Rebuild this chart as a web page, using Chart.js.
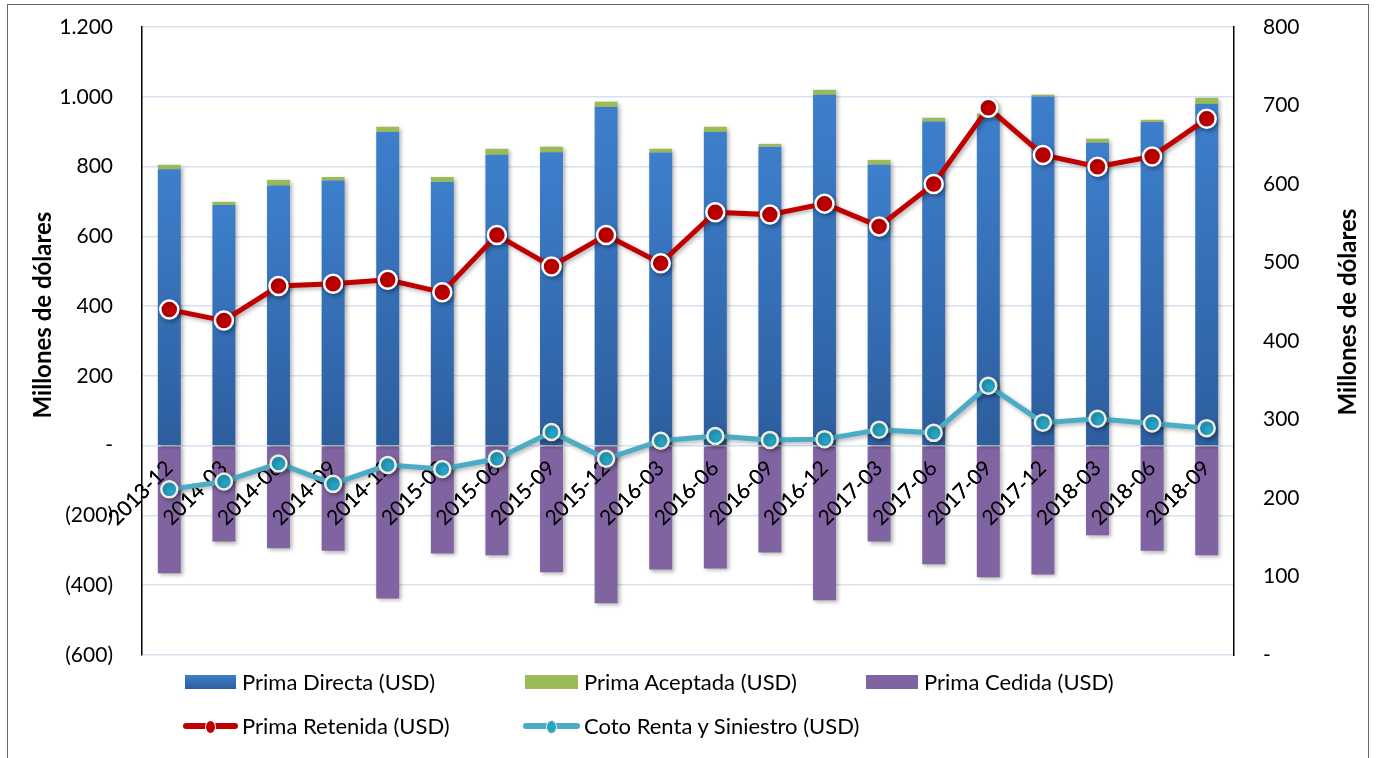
<!DOCTYPE html>
<html lang="es">
<head>
<meta charset="utf-8" />
<title>Primas</title>
<script src="https://cdn.jsdelivr.net/npm/chart.js@4.4.0/dist/chart.umd.min.js"></script>
<style>
  body { margin: 0; background: #fff; font-family: Lato, "Open Sans", sans-serif; }
  #caja { position: absolute; left: 0; top: 0; width: 1376px; height: 758px; }
  #marco { position: absolute; left: 7px; top: 4px; width: 1360px; height: 800px; border: 1px solid #666; }
  .ley { position: absolute; font-size: 22px; color: #000; line-height: 24px; white-space: nowrap; }
  .cuadro { position: absolute; height: 14px; }
  .linea { position: absolute; height: 6px; border-radius: 3px; }
  .punto { position: absolute; width: 9px; height: 12px; border-radius: 50%; }
</style>
</head>
<body>
<div id="marco"></div>
<div id="caja"><canvas id="grafico" width="1376" height="758"></canvas></div>

<div class="cuadro" style="left:185px;top:675px;width:51px;background:linear-gradient(#3D7FCC,#2D5E9E)"></div>
<div class="ley" style="left:242px;top:670px">Prima Directa (USD)</div>
<div class="cuadro" style="left:525px;top:675px;width:53px;background:#9BBB59"></div>
<div class="ley" style="left:584px;top:670px">Prima Aceptada (USD)</div>
<div class="cuadro" style="left:866px;top:675px;width:52px;background:#8064A2"></div>
<div class="ley" style="left:924px;top:670px">Prima Cedida (USD)</div>

<div class="linea" style="left:183px;top:723px;width:55px;background:#C00000"></div>
<div class="punto" style="left:205px;top:720px;background:#C00000;border:1px solid #fff"></div>
<div class="ley" style="left:242px;top:714px">Prima Retenida (USD)</div>
<div class="linea" style="left:523px;top:723px;width:57px;background:#4BACC6"></div>
<div class="punto" style="left:546px;top:720px;background:#2AA3C6;border:1px solid #EEECE1"></div>
<div class="ley" style="left:584px;top:714px">Coto Renta y Siniestro (USD)</div>

<script>
// datos (millones de USD)
const fechas = ["2013-12","2014-03","2014-06","2014-09","2014-12","2015-03","2015-06","2015-09","2015-12","2016-03",
                "2016-06","2016-09","2016-12","2017-03","2017-06","2017-09","2017-12","2018-03","2018-06","2018-09"];
const primaDirecta  = [792, 690, 746, 760, 899, 756, 834, 841, 971, 840, 899, 857, 1006, 805, 929, 940, 1001, 868, 928, 979];
const primaAceptada = [13, 9, 16, 10, 15, 14, 17, 16, 15, 11, 15, 8, 14, 14, 11, 12, 5, 12, 6, 18];
const primaCedida   = [-366, -275, -294, -301, -438, -309, -314, -363, -452, -355, -352, -306, -443, -275, -340, -377, -369, -257, -301, -314];
// eje derecho
const primaRetenida = [440, 426, 470, 473, 478, 462, 535, 495, 535, 499, 564, 561, 575, 546, 600, 697, 637, 622, 635, 683];
const costoRenta    = [211, 221, 244, 218, 242, 237, 250, 284, 250, 273, 279, 274, 275, 287, 283, 343, 296, 301, 295, 289];
const tituloEje = "Millones de dólares";

function formato(v) {
  if (v === 0) return "-";
  const s = String(Math.abs(v)).replace(/\B(?=(\d{3})+(?!\d))/g, ".");
  return v < 0 ? "(" + s + ")" : s;
}

// degradado azul de cada barra
function azul(ctx) {
  const chart = ctx.chart;
  if (!chart.chartArea || ctx.raw === undefined) return "#3A78C2";
  const y = chart.scales.y;
  const g = chart.ctx.createLinearGradient(0, y.getPixelForValue(ctx.raw), 0, y.getPixelForValue(0));
  g.addColorStop(0, "#3D7FCC");
  g.addColorStop(1, "#2D5E9E");
  return g;
}

const sombra = {
  id: "sombra",
  beforeDatasetDraw(chart) {
    const c = chart.ctx;
    c.save();
    c.shadowColor = "rgba(0,0,0,0.3)";
    c.shadowBlur = 4;
    c.shadowOffsetX = 2;
    c.shadowOffsetY = 2;
  },
  afterDatasetDraw(chart) { chart.ctx.restore(); }
};

// fechas encima de las barras pero debajo de las lineas
const etiquetasX = {
  id: "etiquetasX",
  afterDatasetDraw(chart, args) {
    if (args.index === 2) chart.scales.x.drawLabels(chart.chartArea);
  }
};

// titulos de los ejes, ambos girados hacia arriba
const titulos = {
  id: "titulos",
  afterDraw(chart) {
    const c = chart.ctx;
    c.save();
    c.font = "bold 24px Lato";
    c.fillStyle = "#000";
    c.textAlign = "center";
    c.textBaseline = "middle";
    [[43, 315], [1348, 312]].forEach(([x, y]) => {
      c.save();
      c.translate(x, y);
      c.rotate(-Math.PI / 2);
      c.fillText(tituloEje, 0, 0);
      c.restore();
    });
    c.restore();
  }
};

const fuente = { family: "Lato", size: 21 };

new Chart(document.getElementById("grafico"), {
  type: "bar",
  data: {
    labels: fechas,
    datasets: [
      { type: "line", label: "Prima Retenida (USD)", data: primaRetenida, yAxisID: "y1", order: 1,
        borderColor: "#C00000", borderWidth: 5, backgroundColor: "#C00000",
        pointRadius: 9, pointBorderWidth: 2.5, pointBorderColor: "#fff", pointBackgroundColor: "#C00000", tension: 0 },
      { type: "line", label: "Coto Renta y Siniestro (USD)", data: costoRenta, yAxisID: "y1", order: 2,
        borderColor: "#4BACC6", borderWidth: 5, backgroundColor: "#2AA3C6",
        pointRadius: 8, pointBorderWidth: 2.5, pointBorderColor: "#EEECE1", pointBackgroundColor: "#25A2C4", tension: 0 },
      { label: "Prima Directa (USD)", data: primaDirecta, backgroundColor: azul, order: 3 },
      { label: "Prima Aceptada (USD)", data: primaAceptada, backgroundColor: "#9BBB59", order: 3 },
      { label: "Prima Cedida (USD)", data: primaCedida, backgroundColor: "#8064A2", order: 3 }
    ]
  },
  options: {
    responsive: false,
    animation: false,
    layout: { padding: { top: 27, bottom: 103, left: 0, right: 0 } },
    datasets: { bar: { categoryPercentage: 0.42, barPercentage: 1 } },
    plugins: { legend: { display: false }, tooltip: { enabled: false } },
    scales: {
      x: {
        stacked: true,
        position: { y: 0 },
        grid: { display: false },
        border: { display: false },
        ticks: { font: fuente, color: "#000", minRotation: 45, maxRotation: 45, autoSkip: false, padding: 2 }
      },
      y: {
        stacked: true,
        position: "left",
        min: -600, max: 1200,
        grid: { color: "#D6E2F2", lineWidth: 1.5, tickLength: 27, tickColor: "rgba(0,0,0,0)" },
        border: { color: "#000", width: 1.5 },
        ticks: { stepSize: 200, font: fuente, color: "#000", padding: 2, callback: v => formato(v) },
        afterFit: s => { s.width = 142; }
      },
      y1: {
        position: "right",
        min: 0, max: 800,
        grid: { drawOnChartArea: false, tickLength: 27, tickColor: "rgba(0,0,0,0)" },
        border: { color: "#000", width: 1.5 },
        ticks: { stepSize: 100, font: fuente, color: "#000", padding: 2, callback: v => formato(v) },
        afterFit: s => { s.width = 142; }
      }
    }
  },
  plugins: [sombra, etiquetasX, titulos]
});
</script>
</body>
</html>
